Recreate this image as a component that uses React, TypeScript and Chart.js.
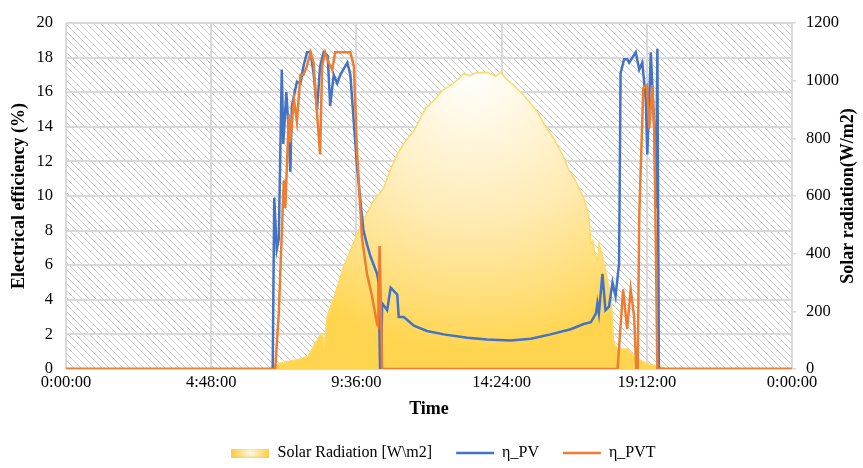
import React, { useEffect, useRef } from 'react';
import { Chart, registerables } from 'chart.js';

Chart.register(...registerables);

// ---- data (time in minutes since 0:00) ----
const solarTime = [0, 405, 409, 425, 445, 465, 481, 491, 499, 505, 509, 512, 518, 534, 550, 564, 578, 594, 610, 630, 644, 657, 673, 689, 703, 713, 733, 747, 767, 778, 789, 802, 812, 836, 852, 862, 872, 888, 908, 922, 935, 951, 967, 985, 997, 1011, 1027, 1037, 1041, 1045, 1049, 1055, 1057, 1063, 1067, 1075, 1081, 1086, 1094, 1114, 1130, 1150, 1180, 1190, 1440];
const solarRadiation = [0, 0, 10, 20, 28, 35, 45, 79, 103, 120, 115, 79, 182, 260, 353, 410, 470, 530, 583, 627, 693, 744, 790, 823, 870, 903, 937, 966, 989, 1005, 1023, 1017, 1026, 1029, 1015, 1029, 1008, 983, 949, 920, 891, 840, 800, 743, 691, 651, 593, 530, 435, 446, 400, 377, 435, 400, 367, 300, 250, 93, 69, 69, 40, 20, 8, 0, 0];

const pvTime = [0, 410, 413, 418, 422, 428, 431, 437, 442, 445, 448, 458, 465, 471, 478, 485, 491, 498, 504, 511, 519, 524, 531, 538, 544, 558, 564, 577, 584, 590, 597, 604, 617, 620, 623, 625, 627, 637, 644, 657, 660, 670, 690, 716, 749, 796, 835, 882, 922, 961, 1001, 1027, 1041, 1051, 1054, 1057, 1064, 1070, 1077, 1084, 1090, 1097, 1100, 1107, 1113, 1117, 1130, 1137, 1143, 1150, 1153, 1160, 1167, 1170, 1173, 1176, 1440];
const pvEfficiency = [0, 0, 9.9, 6.9, 7.5, 17.3, 13.0, 16.0, 13.7, 11.4, 15.2, 16.6, 16.5, 17.5, 18.3, 18.3, 17.1, 15.0, 17.5, 18.3, 18.1, 15.2, 17.0, 16.5, 17.0, 17.7, 17.0, 11.8, 9.7, 8.0, 7.2, 6.5, 5.5, 5.0, 0, 0, 3.8, 3.4, 4.7, 4.3, 3.0, 3.0, 2.5, 2.2, 2.0, 1.8, 1.7, 1.65, 1.75, 2.0, 2.3, 2.6, 2.7, 3.2, 3.8, 3.2, 5.5, 3.4, 3.6, 5.0, 4.2, 6.1, 17.1, 17.9, 17.9, 17.7, 18.3, 17.3, 17.7, 15.6, 12.4, 18.3, 13.7, 9.3, 18.5, 0, 0];

const pvtTime = [0, 415, 422, 432, 435, 442, 445, 452, 458, 465, 471, 478, 485, 491, 498, 504, 508, 514, 521, 528, 534, 564, 571, 577, 587, 597, 607, 617, 619, 622, 627, 1094, 1105, 1113, 1120, 1127, 1131, 1134, 1137, 1145, 1152, 1157, 1163, 1167, 1173, 1440];
const pvtEfficiency = [0, 0, 3.2, 10.9, 9.3, 14.7, 13.1, 15.6, 14.3, 17.0, 17.0, 17.5, 18.3, 17.7, 14.7, 12.4, 17.5, 18.3, 17.7, 17.3, 18.3, 18.3, 17.5, 12.7, 7.6, 5.5, 4.2, 2.6, 2.5, 7.1, 0, 0, 4.6, 2.3, 4.6, 3.0, 0, 0, 8.8, 16.2, 16.4, 13.9, 16.4, 13.7, 0, 0];

const xTickValues = [0, 288, 576, 864, 1152, 1440];
const xTickLabels = ['0:00:00', '4:48:00', '9:36:00', '14:24:00', '19:12:00', '0:00:00'];

const seriesNames = ['Solar Radiation [W\\m2]', 'η_PV', 'η_PVT'];
const leftTitle = 'Electrical efficiency (%)';
const rightTitle = 'Solar radiation(W/m2)';
const xTitle = 'Time';

const FONT = '"Liberation Serif", "Times New Roman", serif';
const BLUE = '#4472C4';
const ORANGE = '#ED7D31';
const GRID = '#d9d9d9';

const pts = (xs: number[], ys: number[]) => xs.map((x, i) => ({ x, y: ys[i] }));

const hatchPlugin = {
  id: 'hatchBg',
  beforeDraw(chart: any) {
    const { ctx, chartArea: a } = chart;
    if (!a) return;
    const s = 7;
    const p = document.createElement('canvas');
    p.width = s;
    p.height = s;
    const pc = p.getContext('2d')!;
    pc.strokeStyle = '#cdcdcd';
    pc.lineWidth = 1;
    for (let k = -1; k <= 1; k++) {
      pc.beginPath();
      pc.moveTo(-1, -1 + k * s);
      pc.lineTo(s + 1, s + 1 + k * s);
      pc.stroke();
    }
    ctx.save();
    ctx.fillStyle = '#ffffff';
    ctx.fillRect(a.left, a.top, a.right - a.left, a.bottom - a.top);
    const pat = ctx.createPattern(p, 'repeat');
    if (pat) {
      ctx.fillStyle = pat;
      ctx.fillRect(a.left, a.top, a.right - a.left, a.bottom - a.top);
    }
    ctx.restore();
  },
  afterDraw(chart: any) {
    const { ctx, chartArea: a } = chart;
    if (!a) return;
    ctx.save();
    ctx.translate(chart.width - 15, (a.top + a.bottom) / 2);
    ctx.rotate(-Math.PI / 2);
    ctx.font = `bold 18px ${FONT}`;
    ctx.textAlign = 'center';
    ctx.textBaseline = 'middle';
    ctx.fillStyle = '#000';
    ctx.fillText(rightTitle, 0, 0);
    ctx.restore();
  },
};

function makeSolarSwatch() {
  const c = document.createElement('canvas');
  c.width = 38;
  c.height = 9;
  const g = c.getContext('2d')!;
  const lg = g.createLinearGradient(0, 0, 38, 0);
  lg.addColorStop(0, '#fcc62c');
  lg.addColorStop(0.5, '#fffbee');
  lg.addColorStop(1, '#fcc62c');
  g.fillStyle = lg;
  g.fillRect(0, 0, 38, 9);
  const vg = g.createLinearGradient(0, 0, 0, 9);
  vg.addColorStop(0, 'rgba(252,198,44,0.6)');
  vg.addColorStop(0.5, 'rgba(255,255,255,0)');
  vg.addColorStop(1, 'rgba(252,198,44,0.6)');
  g.fillStyle = vg;
  g.fillRect(0, 0, 38, 9);
  return c;
}

export default function App() {
  const ref = useRef<HTMLCanvasElement | null>(null);

  useEffect(() => {
    document.body.style.margin = '0';
    const canvas = ref.current;
    if (!canvas) return;
    const swatch = makeSolarSwatch();
    const tickFont = { family: FONT, size: 16.5 };
    const titleFont = { family: FONT, size: 18, weight: 'bold' as const, lineHeight: 1 };

    const chart = new Chart(canvas, {
      type: 'line',
      data: {
        datasets: [
          {
            label: seriesNames[0],
            data: pts(solarTime, solarRadiation),
            yAxisID: 'y2',
            borderColor: '#FFD966',
            borderWidth: 1.5,
            pointRadius: 0,
            tension: 0,
            fill: 'origin',
            order: 3,
            backgroundColor: (c: any) => {
              const chart = c.chart;
              const a = chart.chartArea;
              if (!a) return 'rgba(255,213,79,0.8)';
              const cx = a.left + 0.56 * (a.right - a.left);
              const cy = a.top + 0.14 * (a.bottom - a.top);
              const g = chart.ctx.createRadialGradient(cx, cy, 0, cx, cy, 280);
              g.addColorStop(0, '#ffffff');
              g.addColorStop(0.25, '#fff6dc');
              g.addColorStop(0.55, '#ffeab0');
              g.addColorStop(0.8, '#ffdf7c');
              g.addColorStop(1, '#ffd54f');
              return g;
            },
          },
          {
            label: seriesNames[1],
            data: pts(pvTime, pvEfficiency),
            yAxisID: 'y',
            borderColor: BLUE,
            borderWidth: 2.5,
            pointRadius: 0,
            tension: 0,
            fill: false,
            order: 2,
          },
          {
            label: seriesNames[2],
            data: pts(pvtTime, pvtEfficiency),
            yAxisID: 'y',
            borderColor: ORANGE,
            borderWidth: 2.5,
            pointRadius: 0,
            tension: 0,
            fill: false,
            order: 1,
          },
        ],
      },
      options: {
        responsive: false,
        animation: false,
        events: [],
        layout: { padding: { left: 24, right: 0, top: 19, bottom: -3 } },
        scales: {
          x: {
            type: 'linear',
            min: 0,
            max: 1440,
            afterBuildTicks: (s: any) => {
              s.ticks = xTickValues.map((v) => ({ value: v }));
            },
            afterFit: (s: any) => {
              s.height = 52;
            },
            ticks: {
              callback: (_v: any, i: number) => xTickLabels[i],
              font: tickFont,
              color: '#000',
              padding: 4,
              maxRotation: 0,
              autoSkip: false,
            },
            grid: { color: GRID, lineWidth: 2, drawTicks: false },
            border: { display: false },
            title: {
              display: true,
              text: xTitle,
              font: titleFont,
              color: '#000',
              padding: { top: 0, bottom: 3 },
            },
          },
          y: {
            position: 'left',
            min: 0,
            max: 20,
            afterFit: (s: any) => {
              s.width = 42;
            },
            ticks: { stepSize: 2, font: tickFont, color: '#000', padding: 13 },
            grid: { color: GRID, lineWidth: 2, drawTicks: false },
            border: { display: false },
            title: {
              display: true,
              text: leftTitle,
              font: titleFont,
              color: '#000',
              padding: { top: -14, bottom: 0 },
            },
          },
          y2: {
            position: 'right',
            min: 0,
            max: 1200,
            afterFit: (s: any) => {
              s.width = 71;
            },
            ticks: {
              stepSize: 200,
              font: tickFont,
              color: '#000',
              padding: 10,
              callback: (v: any) => String(v),
            },
            grid: { drawOnChartArea: false, color: GRID, tickLength: 4, lineWidth: 1.5 },
            border: { display: true, color: GRID, width: 2 },
          },
        },
        plugins: {
          tooltip: { enabled: false },
          legend: {
            position: 'bottom',
            labels: {
              usePointStyle: true,
              pointStyleWidth: 38,
              padding: 24,
              color: '#000',
              font: { family: FONT, size: 16 },
              generateLabels: () => [
                { text: seriesNames[0], pointStyle: swatch, fillStyle: '#ffd44e', strokeStyle: '#ffd44e', lineWidth: 0, hidden: false, datasetIndex: 0, fontColor: '#000' },
                { text: seriesNames[1], pointStyle: 'line', fillStyle: BLUE, strokeStyle: BLUE, lineWidth: 2.5, hidden: false, datasetIndex: 1, fontColor: '#000' },
                { text: seriesNames[2], pointStyle: 'line', fillStyle: ORANGE, strokeStyle: ORANGE, lineWidth: 2.5, hidden: false, datasetIndex: 2, fontColor: '#000' },
              ] as any,
            },
          },
        },
      } as any,
      plugins: [hatchPlugin],
    });
    return () => chart.destroy();
  }, []);

  return (
    <div style={{ position: 'fixed', left: 0, top: 0, width: 863, height: 468, background: '#fff' }}>
      <canvas ref={ref} width={863} height={468} style={{ display: 'block' }} />
    </div>
  );
}
